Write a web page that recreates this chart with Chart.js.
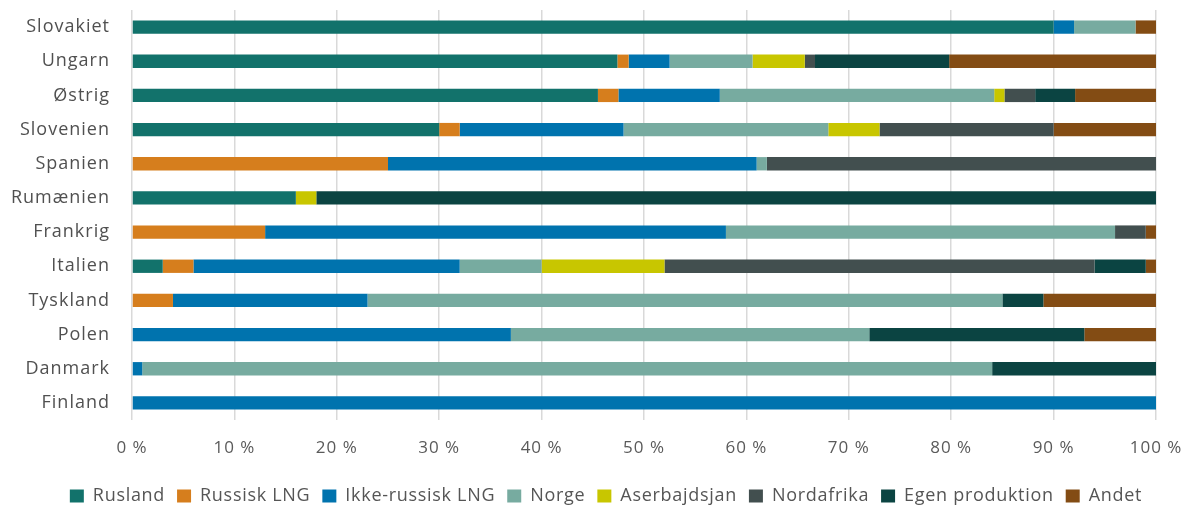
<!DOCTYPE html>
<html>
<head>
<meta charset="utf-8">
<script src="https://cdn.jsdelivr.net/npm/chart.js@4"></script>
<style>
  html, body { margin: 0; padding: 0; background: #fff; }
  #wrap { width: 1187px; height: 505px; position: relative; }
</style>
</head>
<body>
<div id="wrap"><canvas id="chart"></canvas></div>
<script>
const countries = ['Slovakiet','Ungarn','Østrig','Slovenien','Spanien','Rumænien','Frankrig','Italien','Tyskland','Polen','Danmark','Finland'];

const rusland       = [90, 47.4, 45.5, 30, 0, 16, 0, 3, 0, 0, 0, 0];
const russiskLng    = [0, 1.1, 2.0, 2, 25, 0, 13, 3, 4, 0, 0, 0];
const ikkeRussisk   = [2, 4.0, 9.9, 16, 36, 0, 45, 26, 19, 37, 1, 100];
const norge         = [6, 8.1, 26.8, 20, 1, 0, 38, 8, 62, 35, 83, 0];
const aserbajdsjan  = [0, 5.1, 1.0, 5, 0, 2, 0, 12, 0, 0, 0, 0];
const nordafrika    = [0, 1.0, 3.0, 17, 38, 0, 3, 42, 0, 0, 0, 0];
const egenProd      = [0, 13.1, 3.9, 0, 0, 82, 0, 5, 4, 21, 16, 0];
const andet         = [2, 20.2, 7.9, 10, 0, 0, 1, 1, 11, 7, 0, 0];

const series = [
  ['Rusland', rusland, '#12726b'],
  ['Russisk LNG', russiskLng, '#d67e1d'],
  ['Ikke-russisk LNG', ikkeRussisk, '#0073ae'],
  ['Norge', norge, '#77aba0'],
  ['Aserbajdsjan', aserbajdsjan, '#c8c600'],
  ['Nordafrika', nordafrika, '#424f4f'],
  ['Egen produktion', egenProd, '#0b4442'],
  ['Andet', andet, '#834c14']
];

Chart.defaults.font.family = '"Open Sans", sans-serif';
Chart.defaults.color = '#555';

// the reference text is slightly tracked out, and the legend sits a bit right of centre
const tracking = {
  id: 'tracking',
  beforeLayout(chart) {
    const lg = chart.legend;
    if (lg && !lg._tracked) {
      lg._tracked = true;
      ['fit', 'draw'].forEach(fn => {
        const orig = lg[fn].bind(lg);
        lg[fn] = (...args) => {
          const ctx = chart.ctx, old = ctx.letterSpacing;
          ctx.letterSpacing = '0.7px';
          const r = orig(...args);
          ctx.letterSpacing = old;
          return r;
        };
      });
    }
    chart.ctx.letterSpacing = '1px';
  },
  afterLayout(chart) {
    if (chart.legend) { chart.legend.left += 28; chart.legend.right += 28; }
  },
  beforeDraw(chart) { chart.ctx.letterSpacing = '1px'; }
};

new Chart(document.getElementById('chart'), {
  type: 'bar',
  data: {
    labels: countries,
    datasets: series.map(([label, data, color]) => ({
      label, data,
      backgroundColor: color,
      borderWidth: 0,
      barPercentage: 0.78,
      categoryPercentage: 0.5
    }))
  },
  options: {
    indexAxis: 'y',
    responsive: true,
    maintainAspectRatio: false,
    animation: false,
    layout: { padding: { left: 0, right: 31, top: 10, bottom: -10 } },
    scales: {
      x: {
        stacked: true,
        min: 0, max: 100,
        ticks: { stepSize: 10, callback: v => v + ' %', font: { size: 17 }, color: '#5a5a5a', padding: 18 },
        grid: { color: '#d9d9d9', lineWidth: 1.5, drawTicks: false },
        border: { display: false },
        afterFit: s => { s.paddingLeft = 0; s.paddingRight = 0; s.height = 55; }
      },
      y: {
        stacked: true,
        ticks: { font: { size: 18 }, color: '#505050', padding: 14 },
        grid: { display: false },
        border: { display: false },
        afterFit: s => { s.width = 132; s.paddingTop = 0; s.paddingBottom = 0; }
      }
    },
    plugins: {
      legend: {
        position: 'bottom',
        labels: { boxWidth: 14, boxHeight: 13, font: { size: 18 }, color: '#555', padding: 12 }
      },
      tooltip: { enabled: false }
    }
  },
  plugins: [tracking]
});
</script>
</body>
</html>
